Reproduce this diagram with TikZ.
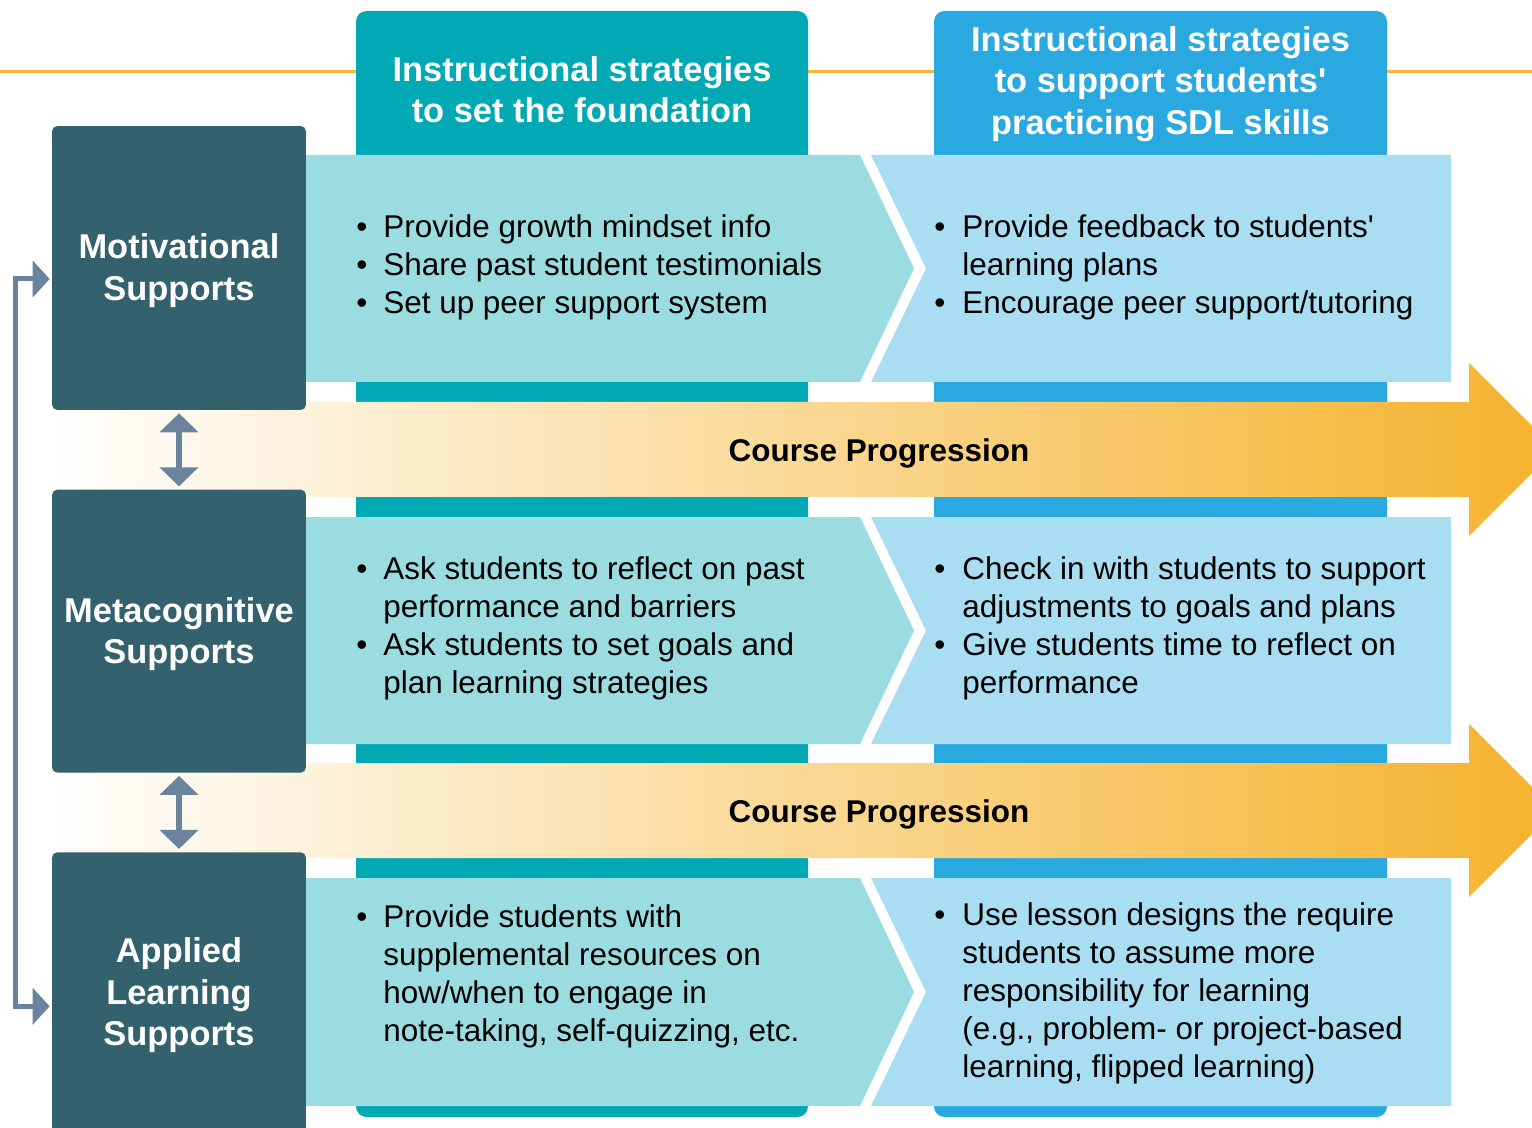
\documentclass[tikz,border=0pt]{standalone}
\usepackage{fontspec}
\setmainfont{Liberation Sans}
\usetikzlibrary{positioning, arrows.meta}

\definecolor{slate}{HTML}{33616E}
\definecolor{tealcol}{HTML}{00A9B4}
\definecolor{bluecol}{HTML}{2AA9E0}
\definecolor{teallight}{HTML}{9BDCE0}
\definecolor{bluelight}{HTML}{A9DDF2}
\definecolor{arrowgray}{HTML}{6A849E}
\definecolor{progorange}{HTML}{F5B22B}
\definecolor{lineorange}{HTML}{F6B532}

\newcommand{\bodyfont}{\fontsize{17.9}{21.6}\selectfont}
\newcommand{\headfont}{\fontsize{19.6}{23.6}\selectfont\bfseries}
\newcommand{\boxtitle}[2][-0.25cm]{\raisebox{#1}[0pt][0pt]{\begin{tabular}{@{}c@{}}#2\end{tabular}}}

\begin{document}
\begin{tikzpicture}[x=0.02cm, y=-0.02cm, >=latex]
      \tikzstyle{support} = [rectangle, rounded corners=3pt, fill=slate, text=white, font=\headfont, minimum width=5.08cm, inner sep=0pt]
      \tikzstyle{header} = [text=white, align=center, font=\headfont, inner sep=0pt]
      \tikzstyle{items} = [anchor=west, inner sep=0pt, font=\bodyfont]
      \tikzstyle{progress} = [font=\bodyfont\bfseries, inner sep=0pt]
      \tikzstyle{link} = [arrowgray, line width=0.12cm, arrows={Triangle[length=0.38cm, width=0.76cm]-Triangle[length=0.38cm, width=0.76cm]}, shorten <=0.06cm, shorten >=0.06cm]
      \tikzstyle{feedback} = [arrowgray, line width=0.1cm, arrows={Triangle[length=0.34cm, width=0.72cm]-Triangle[length=0.34cm, width=0.72cm]}, shorten <=0.04cm, shorten >=0.04cm]

      \useasboundingbox (0,0) rectangle (1532,1128);

      % top rule and the two columns
      \draw [lineorange, line width=0.06cm] (0,72) -- (1532,72);
      \fill [tealcol, rounded corners=6pt] (356,11) rectangle (808,1117);
      \fill [bluecol, rounded corners=6pt] (934,11) rectangle (1387,1117);

      \node (found) [header] at (582,89.5) {Instructional strategies\\to set the foundation};
      \node (sdl) [header] at (1160.5,84) {Instructional strategies\\to support students\textquotesingle\\practicing SDL skills};

      % course progression arrows
      \shade [left color=white, right color=progorange] (52,402) -- (1469,402) -- (1469,363) -- (1555.5,449.5) -- (1469,536) -- (1469,497) -- (52,497) -- cycle;
      \shade [left color=white, right color=progorange] (52,763) -- (1469,763) -- (1469,724) -- (1555.5,810.5) -- (1469,897) -- (1469,858) -- (52,858) -- cycle;

      \node (prog1) [progress] at (879,453) {Course Progression};
      \node (prog2) [progress] at (879,814) {Course Progression};

      % chevron panels
      \fill [teallight] (300,155) -- (860,155) -- (914,268.5) -- (860,382) -- (300,382) -- cycle;
      \fill [bluelight] (871,155) -- (1451,155) -- (1451,382) -- (871,382) -- (926,268.5) -- cycle;
      \fill [teallight] (300,517) -- (860,517) -- (914,630.5) -- (860,744) -- (300,744) -- cycle;
      \fill [bluelight] (871,517) -- (1451,517) -- (1451,744) -- (871,744) -- (926,630.5) -- cycle;
      \fill [teallight] (300,878) -- (860,878) -- (914,992) -- (860,1106) -- (300,1106) -- cycle;
      \fill [bluelight] (871,878) -- (1451,878) -- (1451,1106) -- (871,1106) -- (926,992) -- cycle;

      \node (found1) [items] at (356,268) {\begin{tabular}{@{}p{0.54cm}@{}l@{}}
        \textbullet & Provide growth mindset info\\
        \textbullet & Share past student testimonials\\
        \textbullet & Set up peer support system
      \end{tabular}};
      \node (sdl1) [items] at (934,268) {\begin{tabular}{@{}p{0.56cm}@{}l@{}}
        \textbullet & Provide feedback to students\textquotesingle\\
                    & learning plans\\
        \textbullet & Encourage peer support/tutoring
      \end{tabular}};

      \node (found2) [items] at (356,629) {\begin{tabular}{@{}p{0.54cm}@{}l@{}}
        \textbullet & Ask students to reflect on past\\
                    & performance and barriers\\
        \textbullet & Ask students to set goals and\\
                    & plan learning strategies
      \end{tabular}};
      \node (sdl2) [items] at (934,629) {\begin{tabular}{@{}p{0.56cm}@{}l@{}}
        \textbullet & Check in with students to support\\
                    & adjustments to goals and plans\\
        \textbullet & Give students time to reflect on\\
                    & performance
      \end{tabular}};

      \node (found3) [items] at (356,977) {\begin{tabular}{@{}p{0.54cm}@{}l@{}}
        \textbullet & Provide students with\\
                    & supplemental resources on\\
                    & how/when to engage in\\
                    & note-taking, self-quizzing, etc.
      \end{tabular}};
      \node (sdl3) [items] at (934,994) {\begin{tabular}{@{}p{0.56cm}@{}l@{}}
        \textbullet & Use lesson designs the require\\
                    & students to assume more\\
                    & responsibility for learning\\
                    & (e.g., problem- or project-based\\
                    & learning, flipped learning)
      \end{tabular}};

      % supports
      \node (motiv) [support, minimum height=5.68cm] at (179,268) {\boxtitle{Motivational\\Supports}};
      \node (meta) [support, minimum height=5.66cm, below=1.58cm of motiv] {\boxtitle{Metacognitive\\Supports}};
      \node (applied) [support, minimum height=5.78cm, below=1.58cm of meta] {\boxtitle[-0.17cm]{Applied\\Learning\\Supports}};

      \draw [link] (motiv) -- (meta);
      \draw [link] (meta) -- (applied);
      \draw [feedback] ([yshift=-0.22cm]motiv.west) -- ++(-0.72cm,0) |- ([yshift=-0.19cm]applied.west);

    \end{tikzpicture}
\end{document}
